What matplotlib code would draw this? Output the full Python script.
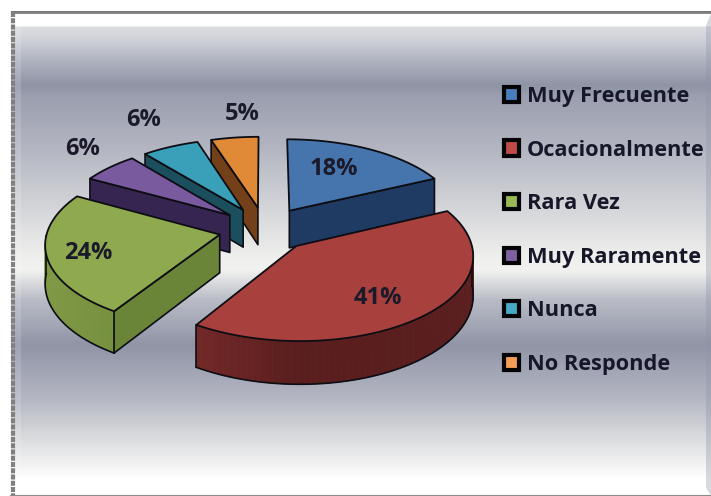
import numpy as np
import matplotlib
matplotlib.use('Agg')
import matplotlib.pyplot as plt
from matplotlib.colors import to_rgb
from matplotlib.patches import Patch, Polygon

# Chart data
categories = ['Muy Frecuente', 'Ocacionalmente', 'Rara Vez', 'Muy Raramente', 'Nunca', 'No Responde']
values = [18, 41, 24, 6, 6, 5]
top_colors = ['#4674ad', '#a8403e', '#8fa94e', '#7a5a9e', '#3a9fb8', '#e08a38']
wall_colors = ['#1f3a63', '#5a1e1e', '#6a8438', '#362550', '#1c4f5e', '#74401a']
legend_colors = ['#4a7ebb', '#be4b48', '#98b954', '#7d60a0', '#46aac5', '#f59d56']

# Where the percent labels sit (pixels)
label_xy = [(334, 169), (378, 298), (88, 253), (83, 149), (144, 120), (242, 114)]

# Background gradient, y position and grey-blue colour
bg_y = [11, 13, 14, 25, 27, 40, 60, 85, 95, 150, 200, 255, 270, 300, 345, 400, 440, 480, 496]
bg_colors = ['#777777', '#8a8a8a', '#ffffff', '#ffffff', '#dcdde0', '#cfd1d8', '#b0b4c1', '#8f94a6',
             '#9a9eae', '#b4b7c2', '#d0d1d6', '#eeeeec', '#f2f2f0', '#b9bcc6', '#9095a7', '#b5b7c3',
             '#dcdddf', '#ffffff', '#ffffff']

# Projection of the pie
cx, cy = 265, 229
rx, ry = 172, 82
depth = 38
explode = 0.27
persp = 0.1

plt.rcParams['font.family'] = ['Open Sans', 'DejaVu Sans']


def project(X, Y, down=0):
    s = 1 / (1 + persp * Y)
    return cx + rx * X * s, cy - ry * Y * s + down * s


def mix(c1, c2, f):
    a, b = np.array(to_rgb(c1)), np.array(to_rgb(c2))
    return tuple(a + (b - a) * f)


fig = plt.figure(figsize=(7.11, 4.96), dpi=100)
ax = fig.add_axes([0, 0, 1, 1])
ax.set_xlim(0, 711)
ax.set_ylim(496, 0)
ax.axis('off')

# Background
rows = np.arange(11, 497)
rgb = np.array([to_rgb(c) for c in bg_colors])
grad = np.stack([np.interp(rows, bg_y, rgb[:, i]) for i in range(3)], axis=1)[:, None, :]
ax.imshow(grad, extent=[11, 711, 496, 11], aspect='auto', interpolation='bilinear', zorder=0)

# Bevels of the frame
ax.add_patch(Polygon([(11, 13), (21, 26), (21, 484), (11, 496)], fc='white', alpha=0.15, ec='none', zorder=1))
ax.add_patch(Polygon([(711, 13), (706, 26), (706, 488), (711, 496)], fc='#8f94a6', alpha=0.35, ec='none', zorder=1))
ax.add_patch(Polygon([(11, 496), (21, 488), (706, 488), (711, 496)], fc='white', alpha=0.7, ec='none', zorder=1))
ax.plot([12.5, 12.5], [12, 496], color='#808080', lw=3, ls=(0, (1.2, 0.3)), zorder=2)
ax.plot([11, 711], [495.5, 495.5], color='#8a8a8a', lw=1.5, zorder=2)

# Slices, back to front
total = sum(values)
edges = np.cumsum([0] + values) / total * 2 * np.pi
mids = (edges[:-1] + edges[1:]) / 2
order = np.argsort(-np.cos(mids))

z = 3
for i in order:
    t0, t1 = edges[i], edges[i + 1]
    ox, oy = explode * np.sin(mids[i]), explode * np.cos(mids[i])
    t = np.linspace(t0, t1, 80)
    arc_x, arc_y = ox + np.sin(t), oy + np.cos(t)

    # radial walls, only when they face the viewer
    for ta, visible in ((t0, np.sin(t0) < -1e-6), (t1, np.sin(t1) > 1e-6)):
        if not visible:
            continue
        ex, ey = ox + np.sin(ta), oy + np.cos(ta)
        pts = [project(ox, oy), project(ex, ey), project(ex, ey, depth), project(ox, oy, depth)]
        ax.add_patch(Polygon(pts, fc=wall_colors[i], ec='#0d0d14', lw=1.2, joinstyle='round', zorder=z))
        z += 1

    # outer wall, only the part facing the viewer
    front = np.cos(t) < 0
    if front.any():
        fx, fy = arc_x[front], arc_y[front]
        ft = t[front]
        for j in range(len(fx) - 1):
            pts = [project(fx[j], fy[j]), project(fx[j + 1], fy[j + 1]),
                   project(fx[j + 1], fy[j + 1], depth), project(fx[j], fy[j], depth)]
            col = mix(wall_colors[i], top_colors[i], max(0, -np.sin(ft[j])) * 0.6)
            ax.add_patch(Polygon(pts, fc=col, ec=col, lw=0.5, zorder=z))
        z += 1
        px, py = project(fx, fy, depth)
        ax.plot(px, py, color='#0d0d14', lw=1.2, zorder=z)
        for end in (0, -1):
            a = project(fx[end], fy[end])
            b = project(fx[end], fy[end], depth)
            ax.plot([a[0], b[0]], [a[1], b[1]], color='#0d0d14', lw=1.2, zorder=z)
        z += 1

    # top face
    xs, ys = project(np.r_[ox, arc_x], np.r_[oy, arc_y])
    ax.add_patch(Polygon(np.c_[xs, ys], fc=top_colors[i], ec='#0d0d14', lw=1.3, joinstyle='round', zorder=z))
    z += 1

# Percent labels
for v, (lx, ly) in zip(values, label_xy):
    ax.text(lx, ly, f'{v}%', ha='center', va='center', fontsize=17, fontweight='bold',
            color='#1a1a2a', zorder=z + 1)

# Legend
handles = [Patch(fc=c, ec='#050508', lw=3, label=n) for c, n in zip(legend_colors, categories)]
ax.legend(handles=handles, loc='upper left', bbox_to_anchor=(504, 86), bbox_transform=ax.transData,
          frameon=False, handlelength=0.69, handleheight=0.69, handletextpad=0.36,
          labelspacing=1.495, borderpad=0, borderaxespad=0, labelcolor='#17172a',
          prop={'weight': 'bold', 'size': 15.7}).set_zorder(z + 1)

plt.savefig('out.png', dpi=100)
